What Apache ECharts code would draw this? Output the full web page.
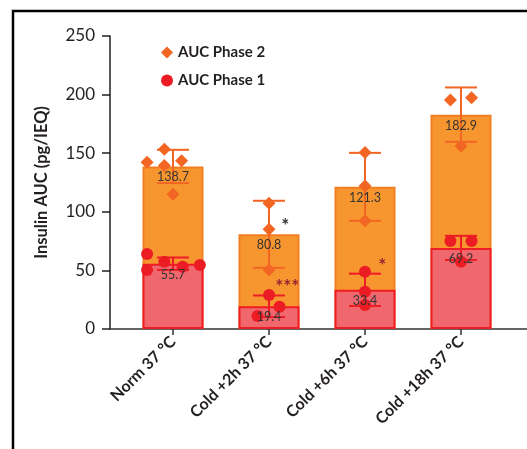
<!DOCTYPE html>
<html><head><meta charset="utf-8">
<script src="https://cdn.jsdelivr.net/npm/echarts@6/dist/echarts.min.js"></script>
<style>html,body{margin:0;padding:0;background:#fff}#c{width:527px;height:449px}</style>
</head><body><div id="c"></div>
<script>
// ---- data ----
const categories = ['Norm 37 °C', 'Cold +2h 37 °C', 'Cold +6h 37 °C', 'Cold +18h 37 °C'];
const phase2Mean = [138.7, 80.8, 121.3, 182.9];
const phase1Mean = [55.7, 19.4, 33.4, 69.2];
const phase2SD = [14.2, 28.6, 29.0, 23.2];
const phase1SD = [5.3, 9.2, 13.8, 10.3];
// replicates: [category index (+ jitter), value]
const phase2Points = [[-0.27, 142.2], [-0.09, 153.3], [-0.09, 139.4], [0.09, 143.6], [0, 114.9],
  [1, 107.3], [1, 85.1], [1, 50.3],
  [2, 150.5], [2, 122.0], [2, 92.4],
  [2.89, 195.4], [3.11, 197.4], [3, 156.1]];
const phase1Points = [[-0.27, 64.0], [-0.09, 57.4], [0.1, 53.2], [0.28, 54.6], [-0.27, 50.3],
  [1, 29.0], [1.11, 19.0], [0.88, 11.1],
  [2, 48.9], [2, 31.8], [2, 20.5],
  [2.89, 75.1], [3.11, 75.1], [3, 57.4]];
const annotationText = ['*', '***', '*'];
const annotationX = [1.17, 1.19, 2.18];
const annotationY = [91.5, 39.2, 57.2];
const yTicks = [0, 50, 100, 150, 200, 250];

// ---- styles ----
const FONT = 'Lato';
const DARK = '#231f20';
const ORANGE_FILL = '#F7962F', ORANGE_EDGE = '#F37E21', ORANGE_PT = '#F26522';
const RED_FILL = '#F0676D', RED_EDGE = '#EE1D25', RED_PT = '#EC1C24';
const annotationColor = ['#333333', '#9B2335', '#9B2335'];

const chart = echarts.init(document.getElementById('c'), null, {renderer: 'canvas'});

function errorBar(color) {
  return function (params, api) {
    const i = api.value(0), m = api.value(1), sd = api.value(2);
    const top = api.coord([i, m + sd]);
    const bot = api.coord([i, m - sd]);
    const hw = 16;
    const st = {stroke: color, lineWidth: 2};
    return {type: 'group', children: [
      {type: 'line', shape: {x1: top[0], y1: top[1], x2: bot[0], y2: bot[1]}, style: st},
      {type: 'line', shape: {x1: top[0] - hw, y1: top[1], x2: top[0] + hw, y2: top[1]}, style: st},
      {type: 'line', shape: {x1: bot[0] - hw, y1: bot[1], x2: bot[0] + hw, y2: bot[1]}, style: st}
    ]};
  };
}

function valueLabel(params, api) {
  const i = api.value(0), m = api.value(1);
  const p = api.coord([i, m]);
  return {type: 'text', x: p[0], y: p[1] + 11, style: {
    text: m.toFixed(1), fill: '#333', font: '12.5px ' + FONT,
    textAlign: 'center', textVerticalAlign: 'middle'}};
}

const option = {
  animation: false,
  textStyle: {fontFamily: FONT},
  graphic: [{type: 'polyline', silent: true,
    shape: {points: [[13, 449], [13, 11], [527, 11]]},
    style: {stroke: '#000', lineWidth: 2.5, fill: null}}],
  grid: [
    {left: 110, top: 36, width: 417, height: 293},
    {left: 125, top: 36, width: 384, height: 293}
  ],
  legend: {
    orient: 'vertical', left: 156, top: 40, itemWidth: 12, itemHeight: 12, itemGap: 13,
    data: [{name: 'AUC Phase 2', icon: 'diamond'}, {name: 'AUC Phase 1', icon: 'circle'}],
    textStyle: {fontSize: 15, fontWeight: 'bold', color: DARK, fontFamily: FONT}
  },
  xAxis: [
    {gridIndex: 0, type: 'value', min: 0, max: 1,
      axisLine: {show: true, onZero: false, lineStyle: {color: '#333', width: 1.5}},
      axisTick: {show: false}, axisLabel: {show: false}, splitLine: {show: false}},
    {gridIndex: 1, type: 'category', data: categories,
      axisLine: {show: false},
      axisTick: {show: true, alignWithLabel: true, length: 6, lineStyle: {color: '#333', width: 1.5}},
      axisLabel: {rotate: 45, interval: 0, fontSize: 16, fontWeight: 'bold', color: DARK, margin: 10, fontFamily: FONT}},
    {gridIndex: 1, type: 'value', min: -0.5, max: 3.5, show: false}
  ],
  yAxis: [
    {gridIndex: 0, type: 'value', min: yTicks[0], max: yTicks[yTicks.length - 1], interval: yTicks[1] - yTicks[0],
      name: 'Insulin AUC (pg/IEQ)', nameLocation: 'middle', nameGap: 60,
      nameTextStyle: {fontSize: 16.5, fontWeight: 'bold', color: DARK, fontFamily: FONT},
      axisLine: {show: true, lineStyle: {color: DARK, width: 1.5}},
      axisTick: {show: true, length: 8, lineStyle: {color: DARK, width: 1.5}},
      axisLabel: {fontSize: 17, color: DARK, margin: 15, fontFamily: FONT},
      splitLine: {show: false}},
    {gridIndex: 1, type: 'value', min: yTicks[0], max: yTicks[yTicks.length - 1], show: false}
  ],
  series: [
    {name: 'phase2bar', type: 'bar', xAxisIndex: 1, yAxisIndex: 1, data: phase2Mean,
      barWidth: 61, barGap: '-100%', z: 1,
      itemStyle: {color: ORANGE_FILL, borderColor: ORANGE_EDGE, borderWidth: 2}},
    {name: 'phase1bar', type: 'bar', xAxisIndex: 1, yAxisIndex: 1, data: phase1Mean,
      barWidth: 61, barGap: '-100%', z: 2,
      itemStyle: {color: RED_FILL, borderColor: RED_EDGE, borderWidth: 2}},
    {type: 'custom', xAxisIndex: 1, yAxisIndex: 1, z: 3,
      data: phase2Mean.map((m, i) => [i, m, phase2SD[i]]), renderItem: errorBar(ORANGE_PT)},
    {type: 'custom', xAxisIndex: 1, yAxisIndex: 1, z: 4,
      data: phase1Mean.map((m, i) => [i, m, phase1SD[i]]), renderItem: errorBar(RED_EDGE)},
    {name: 'AUC Phase 2', type: 'scatter', xAxisIndex: 2, yAxisIndex: 1, z: 5,
      symbol: 'diamond', symbolSize: 13, data: phase2Points, itemStyle: {color: ORANGE_PT, opacity: 1}},
    {name: 'AUC Phase 1', type: 'scatter', xAxisIndex: 2, yAxisIndex: 1, z: 6,
      symbol: 'circle', symbolSize: 12, data: phase1Points, itemStyle: {color: RED_PT, opacity: 1}},
    {type: 'custom', xAxisIndex: 1, yAxisIndex: 1, z: 10,
      data: phase2Mean.map((m, i) => [i, m]), renderItem: valueLabel},
    {type: 'custom', xAxisIndex: 1, yAxisIndex: 1, z: 10,
      data: phase1Mean.map((m, i) => [i, m]), renderItem: valueLabel},
    {type: 'custom', xAxisIndex: 2, yAxisIndex: 1, z: 10,
      data: annotationText.map((t, i) => [annotationX[i], annotationY[i], i]),
      renderItem: function (params, api) {
        const k = api.value(2);
        const p = api.coord([api.value(0), api.value(1)]);
        return {type: 'text', x: p[0], y: p[1] + 4, style: {
          text: annotationText[k], fill: annotationColor[k], font: 'bold 19px ' + FONT,
          textAlign: 'center', textVerticalAlign: 'middle'}};
      }}
  ]
};
chart.setOption(option);
</script></body></html>
